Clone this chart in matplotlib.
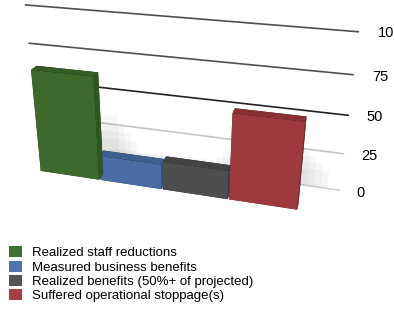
import numpy as np
import matplotlib.pyplot as plt
from matplotlib.patches import Patch
from matplotlib.colors import LightSource
from mpl_toolkits.mplot3d import proj3d
from mpl_toolkits.mplot3d.art3d import Poly3DCollection

plt.rcParams['font.family'] = ['Liberation Sans', 'DejaVu Sans']

# data
labels = ['Realized staff reductions', 'Measured business benefits',
          'Realized benefits (50%+ of projected)', 'Suffered operational stoppage(s)']
values = [69, 17, 19, 56]
colors = ['#41702f', '#4d74ac', '#535353', '#a83d42']
ticks = [0, 25, 50, 75, 100]
grid_colors = ['#d0d0d0', '#c4c4c4', '#222222', '#505050', '#505050']

fig = plt.figure(figsize=(3.94, 3.11), dpi=100)
ax = fig.add_axes([-0.167, 0.25, 1.2, 0.8], projection='3d', computed_zorder=False)
ax.set_proj_type('persp', focal_length=0.48)
ax.view_init(elev=24, azim=-74)

wall_y = 1.0
bar_d = 0.25
x_lo, x_hi = -0.38, 4.52
ax.set_xlim(x_lo, x_hi)
ax.set_ylim(0, wall_y)
ax.set_zlim(0, 100)
ax.set_box_aspect((7.0, 1.0, 3.5), zoom=1.48)
ax.set_axis_off()

# back wall gridlines
for t, c in zip(ticks, grid_colors):
    ax.plot([x_lo, x_hi], [wall_y, wall_y], [t, t], color=c, lw=1.2, zorder=1,
            clip_on=False)

xs = np.arange(len(values))

# soft shadows on the lower wall behind the bars
for k in range(4):
    for x, v in zip(xs, values):
        x0, x1 = x - 0.05 - 0.1 * k, x + 1.05 + 0.1 * k
        h = v * (0.45 - 0.08 * k)
        wall = [(x0, wall_y, 0), (x1, wall_y, 0), (x1, wall_y, h), (x0, wall_y, h)]
        sh = Poly3DCollection([wall], facecolor='#808080', edgecolor='none',
                              alpha=0.06, zorder=1.5)
        sh.set_clip_on(False)
        ax.add_collection3d(sh)

# bars
ls = LightSource(azdeg=160, altdeg=27)
bars = ax.bar3d(xs, np.zeros(len(values)), np.zeros(len(values)), 0.98, bar_d, values,
                color=colors, shade=True, lightsource=ls, zorder=2)
bars.set_clip_on(False)

# value labels next to the gridline ends (placed with the projection actually used)
fig.canvas.draw()
for t in ticks:
    lx, ly, _ = proj3d.proj_transform(x_hi + 0.25, wall_y, t, ax.M)
    ax.text2D(lx, ly, str(t), transform=ax.transData, fontsize=10.5,
              ha='left', va='center')

handles = [Patch(facecolor=c, edgecolor='none') for c in colors]
fig.legend(handles, labels, loc='lower left', bbox_to_anchor=(0.0, 0.0),
           frameon=False, fontsize=9.5, handlelength=1.0, handleheight=0.9,
           handletextpad=0.8, labelspacing=0.1, borderaxespad=0.25)

fig.savefig('out.png', dpi=100)
